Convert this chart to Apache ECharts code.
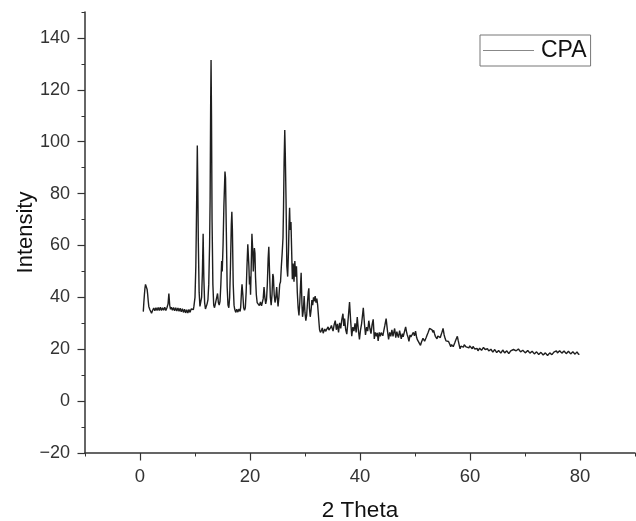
<!DOCTYPE html>
<html>
<head>
<meta charset="utf-8">
<script src="https://cdn.jsdelivr.net/npm/echarts@6/dist/echarts.min.js"></script>
<style>
html,body{margin:0;padding:0;background:#fff;}
#chart{width:636px;height:521px;}
</style>
</head>
<body>
<div id="chart"></div>
<script>
// [2 Theta, Intensity] pairs
var cpaPattern = [
[0.6,34.5],[0.7,38],[0.8,41],[0.9,43.5],[1.0,45],[1.1,45.2],[1.2,44.5],[1.3,43],[1.4,41],[1.5,38.5],[1.6,36.5],[1.8,35.2],[2.0,34.6],[2.1,33.9],[2.2,34.2],[2.3,35.0],[2.4,34.8],[2.5,35.9],[2.6,35.5],[2.7,34.8],[2.8,35.1],[2.9,36.0],[3.0,35.6],[3.1,34.9],[3.2,35.2],[3.3,36.1],[3.4,35.8],[3.5,34.9],[3.6,35.3],[3.7,36.2],[3.8,35.7],[3.9,34.9],[4.0,35.2],[4.1,36.0],[4.2,35.9],[4.3,35.0],[4.4,35.4],[4.5,36.2],[4.6,35.8],[4.7,34.9],[4.8,35.3],[4.9,36.0],[5.0,35.6],[5.1,37.5],[5.25,41.5],[5.4,37],[5.55,35.4],[5.7,36.2],[5.8,35.9],[5.9,35.0],[6.0,35.3],[6.1,36.1],[6.2,35.7],[6.3,34.8],[6.4,35.2],[6.5,36.0],[6.6,35.6],[6.7,34.7],[6.8,35.0],[6.9,35.9],[7.0,35.5],[7.1,34.6],[7.2,34.9],[7.3,35.8],[7.4,35.3],[7.5,34.4],[7.6,34.7],[7.7,35.6],[7.8,35.1],[7.9,34.2],[8.0,34.5],[8.1,35.4],[8.2,34.9],[8.3,34.0],[8.4,34.3],[8.5,35.2],[8.6,34.8],[8.7,34.0],[8.8,34.4],[8.9,35.3],[9.0,35.0],[9.1,34.2],[9.2,34.6],[9.3,35.5],[9.4,35.2],[9.5,34.8],[9.6,35.6],[9.7,35.3],[9.8,36.5],
[10.0,40],[10.15,52],[10.25,68],[10.35,85],[10.42,98.5],[10.5,85],[10.6,62],[10.75,42],[10.9,36.5],[11.05,37],[11.2,40],[11.35,50],[11.48,64.5],[11.6,48],[11.75,38],[11.9,35.5],[12.05,36],[12.2,37.5],[12.35,39],[12.5,45],[12.65,60],[12.75,78],[12.85,115],[12.92,131.5],[13.0,110],[13.1,70],[13.25,45],[13.4,37],[13.55,36],[13.7,37.5],[13.85,39],[14.0,40.5],[14.1,41.5],[14.25,38],[14.4,37],[14.55,38.5],[14.7,45],[14.85,54],[14.95,50],[15.1,60],[15.25,75],[15.45,88.5],[15.55,86],[15.7,65],[15.85,44],[16.0,37],[16.15,36],[16.3,40],[16.45,52],[16.6,68],[16.7,73],[16.8,66],[16.95,45],[17.1,37],[17.2,35.6],[17.3,35],[17.4,34.2],[17.5,34.5],[17.6,35.4],[17.7,35.2],[17.8,34.3],[17.9,34.6],[18.0,35.5],[18.1,35.3],[18.2,34.6],[18.3,36],[18.45,42],[18.55,45],[18.7,41],[18.85,36],[19.0,35],[19.15,36],[19.3,42],[19.45,52],[19.6,60.5],[19.7,61],[19.8,52],[19.9,45],[20.0,48],[20.1,41],[20.2,50],[20.35,64.5],[20.5,58],[20.6,50],[20.7,55],[20.8,59],[20.9,57],[21.0,48],[21.15,41],[21.3,38],[21.45,37.5],[21.6,38.5],[21.7,36.8],[21.8,37.2],[21.9,38.2],[22.0,37.8],[22.1,36.7],[22.2,37],[22.4,39.5],[22.55,44],[22.7,40],[22.85,37.5],[23.0,39],[23.15,45],[23.3,55],[23.42,59.5],[23.55,50],[23.7,40],[23.85,37],[24.0,41],[24.15,49],[24.25,48],[24.4,41],[24.55,38],[24.7,40],[24.85,44],[25.0,39],[25.1,36.5],[25.25,40],[25.4,45],[25.55,46],[25.7,52],[25.85,57],[26.0,63],[26.1,75],[26.2,92],[26.32,104.5],[26.42,95],[26.55,78],[26.7,52],[26.85,48],[27.0,58],[27.1,68],[27.2,74.5],[27.3,66],[27.45,69],[27.55,60],[27.7,47],[27.85,53],[28.0,46],[28.15,54],[28.3,48],[28.45,52],[28.6,42],[28.75,36],[28.9,33],[29.05,38],[29.2,45],[29.3,49.5],[29.45,37],[29.55,32.5],[29.7,35],[29.85,40.5],[30.0,34],[30.15,31],[30.3,33],[30.45,38],[30.6,42],[30.7,43.5],[30.8,36],[30.95,32.5],[31.1,35],[31.25,39],[31.4,37],[31.55,40],[31.7,38.5],[31.85,40.5],[32.0,38],[32.15,39.5],[32.3,37],[32.45,36.5],[32.55,30],[32.65,27.5],[32.8,26.5],
[33.0,27.3],[33.15,28.2],[33.3,26.2],[33.45,27.0],[33.6,27.8],[33.75,26.9],[33.9,26.5],[34.05,27.6],[34.2,28.6],[34.35,27.4],[34.5,26.8],[34.65,28.3],[34.8,29.2],[34.95,28.0],[35.1,27.0],[35.3,29.5],[35.5,31.0],[35.7,27.5],[35.9,29.8],[36.1,26.5],[36.3,30.2],[36.5,28.0],[36.7,31.5],[36.9,33.7],[37.05,29],[37.2,31.8],[37.4,27.5],[37.6,25.8],[37.8,30.5],[38.1,38.2],[38.3,31],[38.5,25],[38.7,28.5],[38.9,27],[39.1,30],[39.3,26.5],[39.5,32.4],[39.7,27.5],[39.9,23.8],[40.1,27.5],[40.3,30],[40.6,36],[40.8,30],[41.0,25.5],[41.2,28.5],[41.4,27],[41.6,31],[41.8,28],[42.0,26],[42.2,29.5],[42.4,31.5],[42.6,24],[42.8,26.5],[43.0,25],[43.15,26.3],[43.3,23.2],[43.5,26.5],[43.7,25],[43.85,26.4],[44.0,27],[44.15,25.2],[44.3,25.5],[44.5,29],[44.75,31.8],[45.0,27],[45.2,23.8],[45.4,26.5],[45.6,25],[45.8,27.5],[46.0,25],[46.15,26.6],[46.3,28],[46.5,24.5],[46.7,26.8],[46.85,25.4],[47.0,24.5],[47.2,27.2],[47.35,25.6],[47.5,24],[47.7,26],[47.85,24.8],[48.0,25],[48.3,28.6],[48.45,26.8],[48.6,25.5],[48.75,24.5],[48.9,23],[49.1,25.5],[49.25,24.7],[49.4,24],[49.55,25.3],[49.7,26.5],[49.9,25.2],[50.1,27],[50.3,24.5],[50.45,23.6],[50.6,23],[50.8,24],[51.0,21.5],[51.15,22.6],[51.3,23],[51.45,24.2],[51.6,24.8],[51.75,23.1],[51.9,23.5],[52.05,24.6],[52.2,25.5],[52.35,26.3],[52.5,27],[52.65,28.0],[52.8,28.6],[52.95,27.8],[53.1,27.5],[53.25,26.5],[53.4,27.3],[53.55,26.0],[53.7,25],[53.85,24.6],[54.0,24],[54.15,25.1],[54.3,25.8],[54.45,24.7],[54.6,24.5],[54.75,25.6],[54.9,26.5],[55.1,28],[55.3,25.5],[55.5,24],[55.65,23.2],[55.8,22.5],[55.95,23.6],[56.1,23],[56.3,22.0],[56.5,21],[56.65,21.8],[56.8,22],[56.95,21.0],[57.1,21.5],[57.25,22.6],[57.4,23.5],[57.55,24.2],[57.7,25],[57.85,23.4],[58.0,22],[58.1,21.0],[58.2,20.2],[58.35,21.2],[58.5,21.5],[58.65,20.6],[58.8,20.8],[58.95,21.7],[59.1,22],[59.3,20.9],[59.5,21.4],[59.65,20.3],[59.8,20.5],[59.95,21.3],[60.1,21.6],[60.25,20.6],[60.4,20.2],[60.55,21.1],[60.7,21.2],[60.85,20.1],[61.0,19.8],[61.15,20.8],[61.3,20.3],[61.45,19.4],[61.6,19.5],[61.75,20.4],[61.9,20.6],[62.1,19.6],[62.3,19.8],[62.45,20.7],[62.6,20.8],[62.75,19.9],[62.9,19.5],[63.05,20.4],[63.2,20.2],[63.4,19.3],[63.6,19.1],[63.8,20.0],[64.0,19.8],[64.15,18.9],[64.3,19.0],[64.5,19.9],[64.7,19.7],[64.85,18.7],[65.0,18.6],[65.2,19.5],[65.4,19.4],[65.6,18.5],[65.8,18.8],[65.95,19.7],[66.1,19.6],[66.3,18.6],[66.5,18.5],[66.7,19.4],[66.9,19.2],[67.05,18.3],[67.2,18.4],[67.4,19.4],[67.6,19.3],[67.75,19.0],[67.9,19.9],[68.05,19.6],[68.2,20.4],[68.4,19.4],[68.6,19.5],[68.8,20.1],[69.0,19.9],[69.2,19.0],[69.4,18.9],[69.6,19.6],[69.8,19.4],[70.05,18.6],[70.3,18.8],[70.5,19.5],[70.7,19.3],[70.9,18.5],[71.1,18.4],[71.3,19.2],[71.5,19.0],[71.7,18.2],[71.9,18.2],[72.1,19.0],[72.3,18.9],[72.5,18.0],[72.7,18.0],[72.9,18.8],[73.1,18.7],[73.3,17.8],[73.5,17.8],[73.7,18.6],[73.9,18.5],[74.1,17.6],[74.3,17.7],[74.5,18.6],[74.7,18.6],[74.9,17.9],[75.1,18.0],[75.25,18.9],[75.4,19.0],[75.55,19.6],[75.7,19.4],[75.9,18.6],[76.1,18.7],[76.3,19.4],[76.5,19.3],[76.7,18.5],[76.9,18.6],[77.1,19.3],[77.3,19.1],[77.5,18.3],[77.7,18.4],[77.9,19.2],[78.1,19.0],[78.3,18.2],[78.5,18.3],[78.7,19.0],[78.9,18.9],[79.1,18.1],[79.3,18.2],[79.45,19.0],[79.6,18.8],[79.75,18.0],[79.9,18.1]
];
var xMajorTicks = [0, 20, 40, 60, 80];
var yMajorTicks = [-20, 0, 20, 40, 60, 80, 100, 120, 140];
var seriesName = 'CPA';

var FONT = '"Liberation Sans", Arial, sans-serif';
var AX = '#333';
var chart = echarts.init(document.getElementById('chart'), null, {renderer: 'canvas'});
function minus(v){ return String(v).replace('-', '\u2212'); }
chart.setOption({
  animation: false,
  backgroundColor: '#fff',
  grid: {left: 85, right: 1, top: 12, bottom: 68, containLabel: false, outerBoundsMode: 'none'},
  legend: {
    show: true, left: 480, top: 35,
    padding: [4, 4, 4, 3],
    borderColor: '#777', borderWidth: 1,
    itemWidth: 51, itemHeight: 14, itemGap: 0,
    textStyle: {fontFamily: FONT, fontSize: 23, color: '#111', padding: [0,0,0,2]},
    data: [{name: seriesName, icon: 'path://M0,0L51,0L51,1L0,1Z', itemStyle: {color: '#888'}}]
  },
  xAxis: [{
    type: 'value', min: -10, max: 90, interval: 10,
    name: '2 Theta', nameLocation: 'middle', nameGap: 46, nameMoveOverlap: false,
    nameTextStyle: {fontFamily: FONT, fontSize: 22.5, color: '#111'},
    axisLine: {show: true, onZero: false, lineStyle: {color: AX, width: 1.5}},
    axisTick: {show: true, inside: false, length: 3.5, lineStyle: {color: AX, width: 1}},
    axisLabel: {show: true, customValues: xMajorTicks, margin: 14, fontFamily: FONT, fontSize: 18.5, color: '#333', formatter: minus},
    splitLine: {show: false}
  }, {
    type: 'value', min: -10, max: 90, position: 'bottom',
    axisLine: {show: false, onZero: false},
    axisTick: {show: true, length: 7.5, customValues: xMajorTicks, lineStyle: {color: AX, width: 1.2}},
    axisLabel: {show: false},
    splitLine: {show: false}
  }],
  yAxis: [{
    type: 'value', min: -20, max: 150, interval: 10,
    name: 'Intensity', nameLocation: 'middle', nameGap: 48, nameRotate: 90, nameMoveOverlap: false,
    nameTextStyle: {fontFamily: FONT, fontSize: 22, color: '#111'},
    axisLine: {show: true, onZero: false, lineStyle: {color: AX, width: 1.5}},
    axisTick: {show: true, inside: false, length: 3.5, lineStyle: {color: AX, width: 1}},
    axisLabel: {show: true, customValues: yMajorTicks, margin: 15, fontFamily: FONT, fontSize: 18, color: '#333', formatter: minus},
    splitLine: {show: false}
  }, {
    type: 'value', min: -20, max: 150, position: 'left',
    axisLine: {show: false, onZero: false},
    axisTick: {show: true, length: 7.5, customValues: yMajorTicks, lineStyle: {color: AX, width: 1.2}},
    axisLabel: {show: false},
    splitLine: {show: false}
  }],
  series: [{
    name: seriesName, type: 'line', xAxisIndex: 0, yAxisIndex: 0,
    data: cpaPattern, symbol: 'none', showSymbol: false,
    lineStyle: {color: '#1e1e1e', width: 1.4},
    itemStyle: {color: '#888'},
    silent: true
  }]
});
</script>
</body>
</html>
